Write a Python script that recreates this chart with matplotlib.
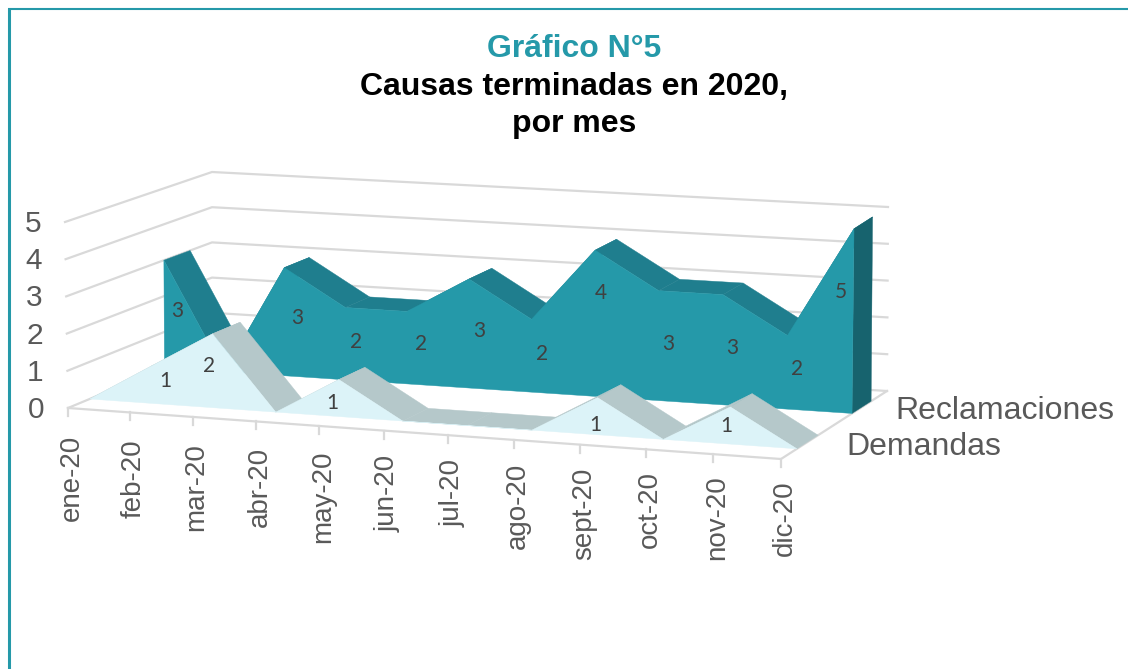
#!/usr/bin/env python3
# -*- coding: utf-8 -*-

import numpy as np
import matplotlib

matplotlib.use("Agg")
import matplotlib.pyplot as plt
from matplotlib.colors import LinearSegmentedColormap
from matplotlib.patches import Polygon

months = ["ene-20", "feb-20", "mar-20", "abr-20", "may-20", "jun-20",
          "jul-20", "ago-20", "sept-20", "oct-20", "nov-20", "dic-20"]
reclamaciones = [3, 0, 3, 2, 2, 3, 2, 4, 3, 3, 2, 5]
demandas = [0, 1, 2, 0, 1, 0, 0, 0, 1, 0, 1, 0]
y_ticks = [0, 1, 2, 3, 4, 5]

TEAL = "#2599A9"
GREY = "#595959"
GRID = "#D9D9D9"

# pixel corners of the 3D box: front-left, front-right, back-right, back-left
FLOOR = np.array([(68, 408), (781, 459), (887, 391), (212, 348)], float)
CEIL = np.array([(65, 222), (785, 273), (888, 207), (212, 172)], float)
# months get slightly wider to the right, as in a perspective view
WARP = 0.048

# label shift from the top of each point, in pixels
REC_OFFSET = [(13, 51), (0, 0), (13, 50), (11, 34), (14, 33), (10, 52),
              (11, 35), (6, 43), (10, 53), (9, 53), (10, 34), (-13, 63)]
DEM_OFFSET = [(0, 0), (15, 15), (-3, 32), (0, 0), (-7, 23), (0, 0),
              (0, 0), (0, 0), (-2, 27), (0, 0), (-4, 19), (0, 0)]


def plane_point(corners, u, d):
    front = corners[0] + (corners[1] - corners[0]) * u
    back = corners[3] + (corners[2] - corners[3]) * u
    return front + (back - front) * d


def project(i, z, d):
    # month index, value, depth (0 front, 1 back) to pixels
    t = i / (len(months) - 1)
    u = t - WARP * t * (1 - t)
    p0 = plane_point(FLOOR, u, d)
    p5 = plane_point(CEIL, u, d)
    return p0 + (p5 - p0) * z / y_ticks[-1]


def gradient_fill(ax, pts, c0, c1):
    # horizontal gradient from c0 to c1 clipped to the polygon
    pts = np.array(pts)
    cmap = LinearSegmentedColormap.from_list("strip", [c0, c1])
    patch = Polygon(pts, closed=True, transform=ax.transData, fc="none", ec="none")
    ax.add_patch(patch)
    extent = [pts[:, 0].min(), pts[:, 0].max(), pts[:, 1].max(), pts[:, 1].min()]
    img = ax.imshow(np.linspace(0, 1, 256).reshape(1, -1), cmap=cmap, extent=extent,
                    aspect="auto", zorder=3)
    img.set_clip_path(patch)


def draw_series(ax, values, d0, d1, front, down, flat, cap=None):
    n = len(values)
    i = 0
    while i < n - 1:
        v0 = values[i]
        j = i + 1
        # a run of equal values is one strip with a colour gradient
        while j < n - 1 and values[j] == v0:
            j += 1
        if values[j] == v0:
            pts = [project(i, v0, d0), project(j, v0, d0),
                   project(j, v0, d1), project(i, v0, d1)]
            gradient_fill(ax, pts, down, flat)
            i = j
        else:
            pts = [project(i, v0, d0), project(i + 1, values[i + 1], d0),
                   project(i + 1, values[i + 1], d1), project(i, v0, d1)]
            ax.fill(*zip(*pts), color=down, lw=0.3, zorder=3)
            i += 1
    if cap:
        pts = [project(n - 1, 0, d0), project(n - 1, values[-1], d0),
               project(n - 1, values[-1], d1), project(n - 1, 0, d1)]
        ax.fill(*zip(*pts), color=cap, lw=0.3, zorder=3)
    pts = [project(i, v, d0) for i, v in enumerate(values)]
    pts += [project(n - 1, 0, d0), project(0, 0, d0)]
    ax.fill(*zip(*pts), color=front, lw=0.3, zorder=3)


def draw_labels(ax, values, d0, offsets):
    for i, v in enumerate(values):
        if v == 0:
            continue
        x, y = project(i, v, d0)
        ax.text(x + offsets[i][0], y + offsets[i][1], str(v), ha="center",
                va="center", fontsize=15, family="Lato", color="#404040",
                zorder=5)


plt.rcParams["font.family"] = ["Liberation Sans", "DejaVu Sans"]

fig = plt.figure(figsize=(11.28, 6.69), dpi=100)
ax = fig.add_axes([0, 0, 1, 1])
ax.set_autoscale_on(False)
ax.set_xlim(0, 1128)
ax.set_ylim(669, 0)
ax.axis("off")

# outer frame, only left and top
ax.plot([9, 9], [8, 669], color=TEAL, lw=2.2, solid_capstyle="butt")
ax.plot([8, 1128], [9, 9], color=TEAL, lw=1.5, solid_capstyle="butt")

# walls
last = len(months) - 1
for t in y_ticks:
    wall = [project(0, t, 0), project(0, t, 1), project(last, t, 1)]
    ax.plot(*zip(*wall), color=GRID, lw=1.6, zorder=1)

# floor edges and ticks
edge = [project(0, 0, 0), project(last, 0, 0), project(last, 0, 1)]
ax.plot(*zip(*edge), color=GRID, lw=1.6, zorder=1)
for i, name in enumerate(months):
    x, y = project(i, 0, 0)
    ax.plot([x, x], [y, y + 8], color=GRID, lw=1.6, zorder=1)
    ax.text(x + 4, y + 27 - 6 * i / last, name, rotation=90, ha="center",
            va="top", fontsize=20, color=GREY)

for t in y_ticks:
    x, y = project(0, t, 0)
    ax.text(x - 24, y + 2, str(t), ha="right", va="center", fontsize=21.5, color=GREY)

REC_D = (0.67, 0.85)
DEM_D = (0.15, 0.35)
draw_series(ax, reclamaciones, *REC_D, "#2599A9", "#1F7E8E", "#1A6B77", cap="#17636E")
draw_series(ax, demandas, *DEM_D, "#DCF3F8", "#B5C8CA", "#8C9CA0")
draw_labels(ax, reclamaciones, REC_D[0], REC_OFFSET)
draw_labels(ax, demandas, DEM_D[0], DEM_OFFSET)

x, y = project(last, 0, np.mean(REC_D))
ax.text(x + 34, y + 4, "Reclamaciones", ha="left", va="center", fontsize=23, color=GREY)
x, y = project(last, 0, np.mean(DEM_D))
ax.text(x + 39, y + 5, "Demandas", ha="left", va="center", fontsize=23, color=GREY)

ax.text(574, 49, "Gráfico N°5", ha="center", va="center", fontsize=23,
        fontweight="bold", color=TEAL)
ax.text(574, 87, "Causas terminadas en 2020,", ha="center", va="center",
        fontsize=23, fontweight="bold", color="black")
ax.text(574, 124, "por mes", ha="center", va="center", fontsize=23,
        fontweight="bold", color="black")

fig.savefig("out.png", dpi=100)
